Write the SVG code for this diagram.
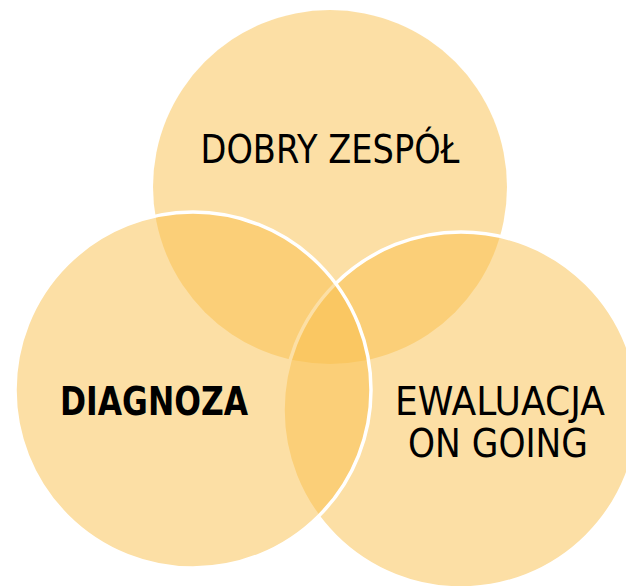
<svg xmlns="http://www.w3.org/2000/svg" width="626" height="586" viewBox="0 0 626 586">
<style>
.c{fill:#F9BF4B;fill-opacity:0.5}
.s{stroke:#FFFFFF;stroke-width:3.5}
.t{font-family:"DejaVu Sans","Liberation Sans",sans-serif;font-size:38.5px;fill:#000000;text-anchor:middle}
.b{font-weight:bold}
</style>
<rect width="626" height="586" fill="#FFFFFF"/>
<g id="top">
<circle class="c" cx="330" cy="187" r="177"/>
<text class="t" x="330" y="163" textLength="259" lengthAdjust="spacingAndGlyphs">DOBRY ZESPÓŁ</text>
</g>
<g id="right">
<circle class="c s" cx="461" cy="410" r="178"/>
<text class="t" x="500" y="415" textLength="210" lengthAdjust="spacingAndGlyphs">EWALUACJA</text>
<text class="t" x="498" y="457" textLength="180" lengthAdjust="spacingAndGlyphs">ON GOING</text>
</g>
<g id="left">
<circle class="c s" cx="193" cy="390" r="178"/>
<text class="t b" x="154" y="415" textLength="188" lengthAdjust="spacingAndGlyphs">DIAGNOZA</text>
</g>
</svg>
